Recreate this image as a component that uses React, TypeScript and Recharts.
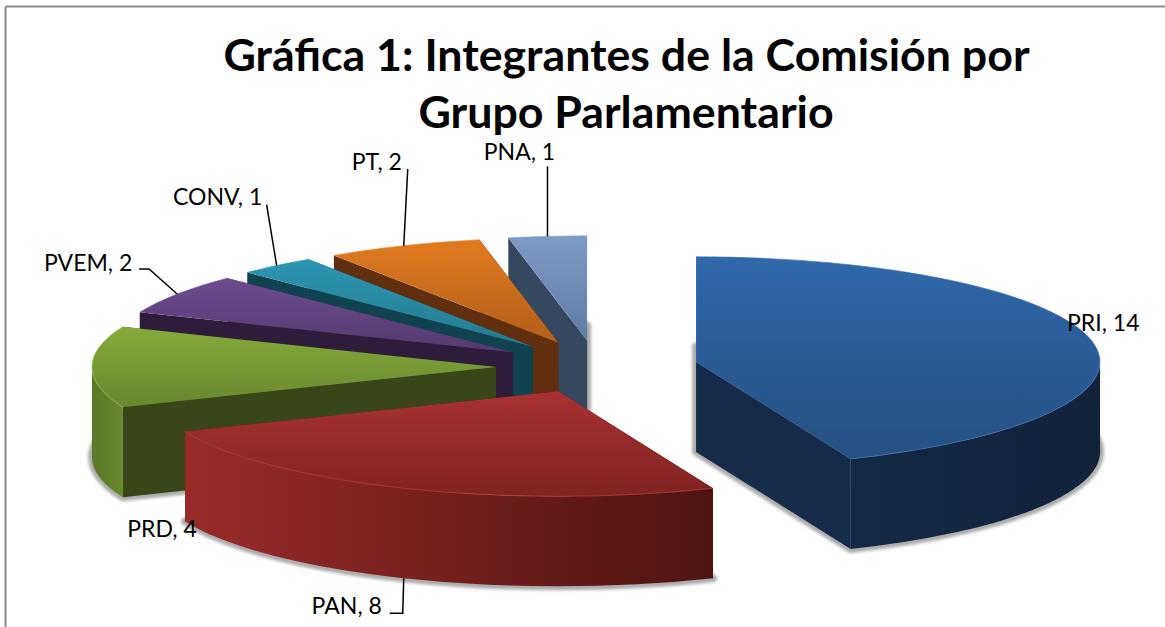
import React from "react";
import { PieChart, Pie } from "recharts";

// Data, in drawing order (back to front), counter-clockwise from 12 o'clock.
const PARTIES = ["PNA", "PT", "CONV", "PVEM", "PRD", "PAN", "PRI"];
const SEATS = [1, 2, 1, 2, 4, 8, 14];
const TITLE_LINES = ["Gráfica 1: Integrantes de la Comisión por", "Grupo Parlamentario"];

const chartData = PARTIES.map((name, i) => ({ name, value: SEATS[i] }));

const W = 1165;
const H = 627;
const CX = 597;
const CY = 367;
const RX = 404;
const SQUASH = 0.26;
const DEPTH = 90;
const EXPLODE = 0.25;
const FONT = "Lato, Carlito, Calibri, sans-serif";

type Pal = { top0: string; top1: string; cut: string; rim0: string; rim1: string; edge: string };
const PALETTE: Record<string, Pal> = {
  PRI: { top0: "#3068ab", top1: "#255082", cut: "#162a49", rim0: "#152946", rim1: "#112239", edge: "#3a74b8" },
  PAN: { top0: "#a93232", top1: "#7f2320", cut: "#5a1715", rim0: "#982b29", rim1: "#4e1412", edge: "#c04040" },
  PRD: { top0: "#86aa3b", top1: "#68872f", cut: "#384618", rim0: "#5a7828", rim1: "#67882d", edge: "#90b644" },
  PVEM: { top0: "#6d4b90", top1: "#533a6e", cut: "#2e1c3b", rim0: "#2e1c3b", rim1: "#2e1c3b", edge: "#7a58a0" },
  CONV: { top0: "#2c96b3", top1: "#257a90", cut: "#10424f", rim0: "#10424f", rim1: "#10424f", edge: "#38a6c4" },
  PT: { top0: "#e17a20", top1: "#b15f19", cut: "#622f0e", rim0: "#622f0e", rim1: "#622f0e", edge: "#ec8a34" },
  PNA: { top0: "#7e9ac6", top1: "#5f7ca4", cut: "#364860", rim0: "#364860", rim1: "#364860", edge: "#8aa6d0" },
};

// Label placement relative to each slice's rim point at its mid angle.
type LabelPlace = { center: [number, number]; leader: [number, number][]; onFloor?: boolean };
const LABEL_PLACE: Record<string, LabelPlace> = {
  PRI: { center: [11, -19.5], leader: [] },
  PAN: { center: [-57, 27], leader: [[-1, 35], [-14, 35]], onFloor: true },
  PRD: { center: [70, 161], leader: [] },
  PVEM: { center: [-89, -32], leader: [[-28, -25], [-38, -25]] },
  CONV: { center: [-59, -70], leader: [[-10, -61]] },
  PT: { center: [-27, -84.7], leader: [[4, -76.7]] },
  PNA: { center: [-28, -85.5], leader: [[0, -70]] },
};

const rad = (d: number) => (d * Math.PI) / 180;
// Recharts angle (ccw from 3 o'clock) -> clockwise angle from 12 o'clock.
const cw = (a: number) => 90 - a;

function apexOf(cx: number, cy: number, R: number, mid: number) {
  const ry = R * SQUASH;
  return {
    x: cx + EXPLODE * R * Math.sin(rad(mid)),
    y: cy - EXPLODE * ry * Math.cos(rad(mid)),
  };
}

function Slice3D(props: any) {
  const { cx, cy, outerRadius: R, startAngle, endAngle, payload, name } = props;
  const key: string = payload?.name ?? name;
  const pal = PALETTE[key];
  let t0 = cw(Math.max(startAngle, endAngle));
  let t1 = cw(Math.min(startAngle, endAngle));
  while (t0 < 0) {
    t0 += 360;
    t1 += 360;
  }
  const ry = R * SQUASH;
  const apex = apexOf(cx, cy, R, (t0 + t1) / 2);
  const pt = (t: number, dz = 0) => ({
    x: apex.x + R * Math.sin(rad(t)),
    y: apex.y - ry * Math.cos(rad(t)) + dz,
  });
  const f = (n: number) => n.toFixed(2);
  const sector = (dz: number) => {
    const a = pt(t0, dz);
    const b = pt(t1, dz);
    const large = t1 - t0 > 180 ? 1 : 0;
    return `M${f(apex.x)} ${f(apex.y + dz)} L${f(a.x)} ${f(a.y)} A${R} ${f(ry)} 0 ${large} 1 ${f(b.x)} ${f(b.y)} Z`;
  };
  const cut = (t: number) => {
    const a = pt(t);
    const b = pt(t, DEPTH);
    return `M${f(apex.x)} ${f(apex.y)} L${f(a.x)} ${f(a.y)} L${f(b.x)} ${f(b.y)} L${f(apex.x)} ${f(apex.y + DEPTH)} Z`;
  };
  const r0 = Math.max(t0, 90);
  const r1 = Math.min(t1, 270);
  let rim: string | null = null;
  if (r1 > r0) {
    const a = pt(r0);
    const b = pt(r1);
    const c = pt(r1, DEPTH);
    const d = pt(r0, DEPTH);
    rim = `M${f(a.x)} ${f(a.y)} A${R} ${f(ry)} 0 0 1 ${f(b.x)} ${f(b.y)} L${f(c.x)} ${f(c.y)} A${R} ${f(ry)} 0 0 0 ${f(d.x)} ${f(d.y)} Z`;
  }
  const e0 = pt(t0);
  const e1 = pt(t1);
  const arc = `M${f(e0.x)} ${f(e0.y)} A${R} ${f(ry)} 0 0 1 ${f(e1.x)} ${f(e1.y)}`;
  return (
    <g>
      <defs>
        <linearGradient id={`top-${key}`} x1="0" y1="0" x2="0" y2="1">
          <stop offset="0" stopColor={pal.top0} />
          <stop offset="1" stopColor={pal.top1} />
        </linearGradient>
        <linearGradient id={`rim-${key}`} x1="0" y1="0" x2="1" y2="0">
          <stop offset="0" stopColor={pal.rim0} />
          <stop offset="1" stopColor={pal.rim1} />
        </linearGradient>
        <filter id={`blur-${key}`} x="-10%" y="-10%" width="120%" height="120%">
          <feGaussianBlur stdDeviation="1.8" />
        </filter>
      </defs>
      <path
        d={sector(DEPTH)}
        fill="#8f8f8f"
        stroke="#8f8f8f"
        strokeWidth={8}
        strokeLinejoin="round"
        opacity={0.75}
        filter={`url(#blur-${key})`}
      />
      <path d={cut(t0)} fill={pal.cut} />
      <path d={cut(t1)} fill={pal.cut} />
      {rim && <path d={rim} fill={`url(#rim-${key})`} />}
      <path d={sector(0)} fill={`url(#top-${key})`} />
      <path d={arc} fill="none" stroke={pal.edge} strokeWidth={1} opacity={0.7} />
    </g>
  );
}

function SliceLabel(props: any) {
  const { cx, cy, midAngle, outerRadius: R, payload, name, value } = props;
  const key: string = payload?.name ?? name;
  const place = LABEL_PLACE[key];
  const mid = ((cw(midAngle) % 360) + 360) % 360;
  const apex = apexOf(cx, cy, R, mid);
  const ax = apex.x + R * Math.sin(rad(mid));
  const ay = apex.y - R * SQUASH * Math.cos(rad(mid)) + (place.onFloor ? DEPTH : 0);
  const pts = [[ax, ay], ...place.leader.map(([dx, dy]) => [ax + dx, ay + dy])];
  return (
    <g>
      {place.leader.length > 0 && (
        <polyline
          points={pts.map((p) => p.join(",")).join(" ")}
          fill="none"
          stroke="#000"
          strokeWidth={1.5}
        />
      )}
      <text
        x={ax + place.center[0]}
        y={ay + place.center[1]}
        textAnchor="middle"
        dominantBaseline="central"
        fontFamily={FONT}
        fontSize={23}
        fill="#000"
      >
        {`${key}, ${value}`}
      </text>
    </g>
  );
}

export default function App() {
  return (
    <div style={{ position: "absolute", left: 0, top: 0, width: W, height: H, background: "#fff" }}>
      <PieChart width={W} height={H} margin={{ top: 0, right: 0, bottom: 0, left: 0 }}>
        <line x1={5.5} y1={6.5} x2={W} y2={6.5} stroke="#8c8c8c" strokeWidth={2} />
        <line x1={5.5} y1={6.5} x2={5.5} y2={H} stroke="#8c8c8c" strokeWidth={2} />
        <text x={626.5} y={71} textAnchor="middle" fontFamily={FONT} fontWeight={700} fontSize={44.7} fill="#000">
          {TITLE_LINES[0]}
        </text>
        <text x={626} y={128} textAnchor="middle" fontFamily={FONT} fontWeight={700} fontSize={44.7} fill="#000">
          {TITLE_LINES[1]}
        </text>
        <Pie
          data={chartData}
          dataKey="value"
          nameKey="name"
          cx={CX}
          cy={CY}
          innerRadius={0}
          outerRadius={RX}
          startAngle={90}
          endAngle={450}
          paddingAngle={0}
          stroke="none"
          isAnimationActive={false}
          shape={Slice3D}
          label={SliceLabel}
          labelLine={false}
        />
      </PieChart>
    </div>
  );
}
